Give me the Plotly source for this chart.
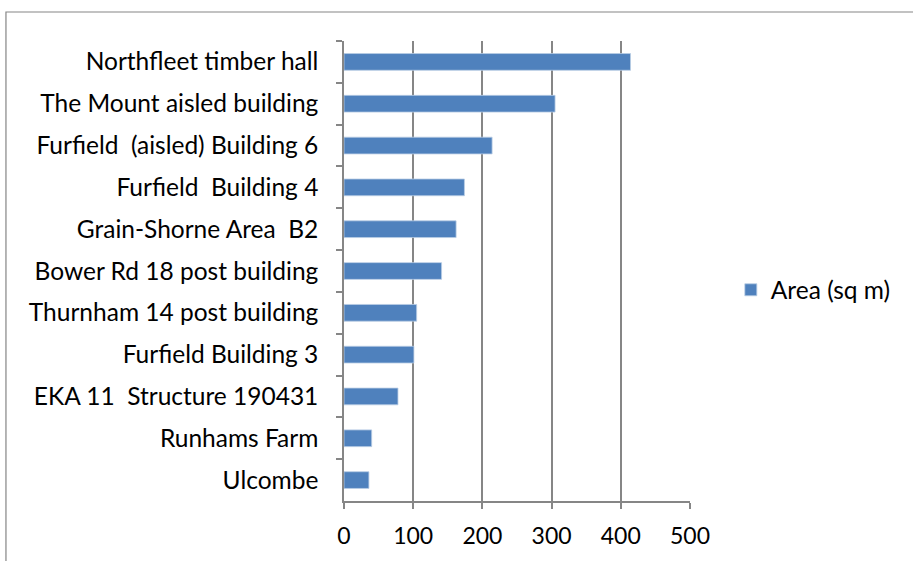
import plotly.graph_objects as go

buildings = [
    "Northfleet timber hall",
    "The Mount aisled building",
    "Furfield  (aisled) Building 6",
    "Furfield  Building 4",
    "Grain-Shorne Area  B2",
    "Bower Rd 18 post building",
    "Thurnham 14 post building",
    "Furfield Building 3",
    "EKA 11  Structure 190431",
    "Runhams Farm",
    "Ulcombe",
]
area = [414, 305, 214, 174, 162, 141, 105, 101, 78, 40, 36]
x_ticks = [0, 100, 200, 300, 400, 500]

grey = "#868686"
font = "Lato, 'Open Sans', sans-serif"

fig = go.Figure()

fig.add_trace(go.Bar(
    y=buildings, x=area,
    orientation="h",
    name="Area (sq m)",
    marker=dict(color="#4F81BD", line=dict(color="#B9CDE5", width=0.8)),
))

fig.update_layout(
    width=913, height=561,
    margin=dict(l=343.5, r=223, t=41, b=60),
    paper_bgcolor="white",
    plot_bgcolor="white",
    bargap=0.6,
    showlegend=True,
    legend=dict(x=1.118, y=0.459, yanchor="middle", xanchor="left",
                font=dict(family=font, size=24.5, color="black"),
                itemwidth=30),
    font=dict(family=font, size=24.5, color="black"),
    shapes=[dict(type="rect", xref="paper", yref="paper",
                 x0=-0.977, y0=-1.0, x1=3.0, y1=1.063,
                 line=dict(color=grey, width=1.2), fillcolor="rgba(0,0,0,0)",
                 layer="below")],
)

fig.update_xaxes(
    range=[0, 500], tickvals=x_ticks,
    showgrid=True, gridcolor=grey, gridwidth=1.5,
    showline=True, linecolor=grey, linewidth=1.5,
    ticks="outside", ticklen=6, tickcolor=grey, tickwidth=1.5,
    zeroline=False, automargin=False,
    ticklabelstandoff=8,
    tickfont=dict(size=23),
)
fig.update_yaxes(
    autorange="reversed", automargin=False,
    showline=True, linecolor=grey, linewidth=1.5,
    ticks="outside", ticklen=6, tickcolor=grey, tickwidth=1.5,
    tickson="boundaries", showgrid=False,
    ticklabelstandoff=19,
    tickfont=dict(size=24.5),
)

fig.write_html("out.html", config={"displayModeBar": False},
               post_script="document.body.style.margin='0';")
